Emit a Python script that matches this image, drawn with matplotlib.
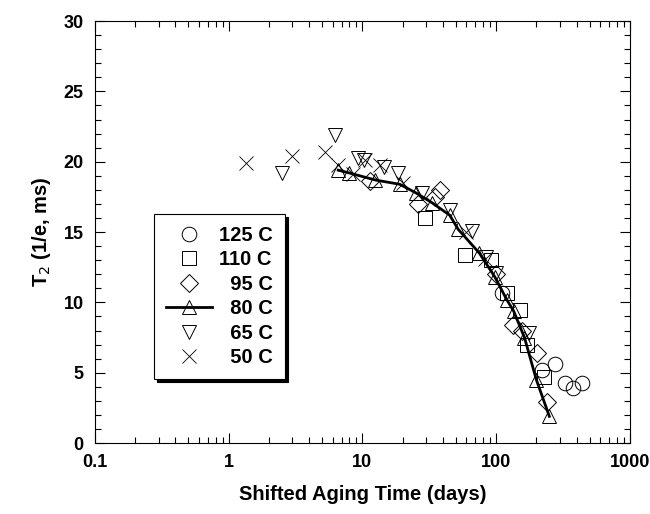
import matplotlib
matplotlib.use("Agg")
import matplotlib.pyplot as plt
from matplotlib.ticker import FixedLocator, NullFormatter

plt.rcParams['font.family'] = ['Liberation Sans', 'DejaVu Sans']

# 125 C
x125 = [110, 220, 275, 327, 375, 437]
y125 = [10.7, 5.2, 5.6, 4.25, 3.9, 4.3]
# 110 C
x110 = [29.3, 59, 92, 121, 150, 171, 230]
y110 = [16.0, 13.4, 13.0, 10.7, 9.45, 7.0, 4.7]
# 95 C
x95 = [11.4, 26, 35, 38, 100, 133, 155, 202, 240]
y95 = [18.6, 17.0, 17.5, 18.0, 12.0, 8.4, 8.0, 6.4, 2.9]
# 80 C (connected)
x80 = [6.6, 8, 12.5, 19, 25, 33, 45, 52, 75, 98, 120, 135, 163, 200, 250]
y80 = [19.4, 19.2, 18.7, 18.4, 17.8, 17.1, 16.2, 15.2, 13.5, 11.8, 10.2, 9.4, 7.5, 4.5, 1.9]
# 65 C
x65 = [2.5, 6.2, 9.2, 10.2, 14.5, 18.4, 28, 45, 66, 84, 100, 175]
y65 = [19.2, 21.9, 20.3, 20.1, 19.6, 19.2, 17.8, 16.6, 15.1, 13.2, 12.1, 7.8]
# 50 C
x50 = [1.35, 3.0, 5.25, 6.56, 8.5, 10.4, 13.5, 20, 60, 82]
y50 = [19.9, 20.4, 20.7, 19.8, 19.1, 20.1, 19.8, 18.5, 15.0, 13.1]

fig = plt.figure(figsize=(6.5, 5.14), dpi=100)
ax = fig.add_axes([0.146, 0.138, 0.823, 0.821])

ms = 10.5
mk = dict(linestyle='none', markerfacecolor='none', markeredgecolor='k',
          markeredgewidth=0.7, markersize=ms)
ax.plot(x125, y125, marker='o', label='125 C', **mk)
ax.plot(x110, y110, marker='s', label='110 C', **mk)
ax.plot(x95, y95, marker='D', label='  95 C', **dict(mk, markersize=9))
ax.plot(x80, y80, marker='^', color='k', linewidth=2.0, markerfacecolor='none',
        markeredgecolor='k', markeredgewidth=0.7, markersize=ms, label='  80 C')
ax.plot(x65, y65, marker='v', label='  65 C', **mk)
ax.plot(x50, y50, marker='x', label='  50 C', **dict(mk, markeredgewidth=0.6))

ax.set_xscale('log')
ax.set_xlim(0.1, 1000)
ax.set_ylim(0, 30)
ax.set_xticks([0.1, 1, 10, 100, 1000])
ax.set_xticklabels(['0.1', '1', '10', '100', '1000'])
ax.xaxis.set_minor_formatter(NullFormatter())
ax.set_yticks([0, 5, 10, 15, 20, 25, 30])
ax.yaxis.set_minor_locator(FixedLocator(range(0, 31)))
ax.tick_params(which='both', direction='in', top=True, right=True, width=0.8)
ax.tick_params(which='major', length=7, labelsize=13, pad=8)
ax.tick_params(which='minor', length=4)
for lbl in ax.get_xticklabels() + ax.get_yticklabels():
    lbl.set_fontweight('bold')
for s in ax.spines.values():
    s.set_linewidth(0.8)

ax.set_xlabel('Shifted Aging Time (days)', fontsize=14.5, fontweight='bold', labelpad=10)
ax.set_ylabel('T$_2$ (1/e, ms)', fontsize=14.5, fontweight='bold', labelpad=8)

leg = ax.legend(loc='upper left', bbox_to_anchor=(0.11, 0.543), fancybox=False,
                shadow={'color': 'k', 'alpha': 1}, framealpha=1, edgecolor='k',
                prop={'weight': 'bold', 'size': 14.5}, handlelength=2.3,
                labelspacing=0.27, borderpad=0.6, handletextpad=0.35,
                borderaxespad=0)
leg.get_frame().set_linewidth(0.8)

fig.savefig('out.png', dpi=100)
